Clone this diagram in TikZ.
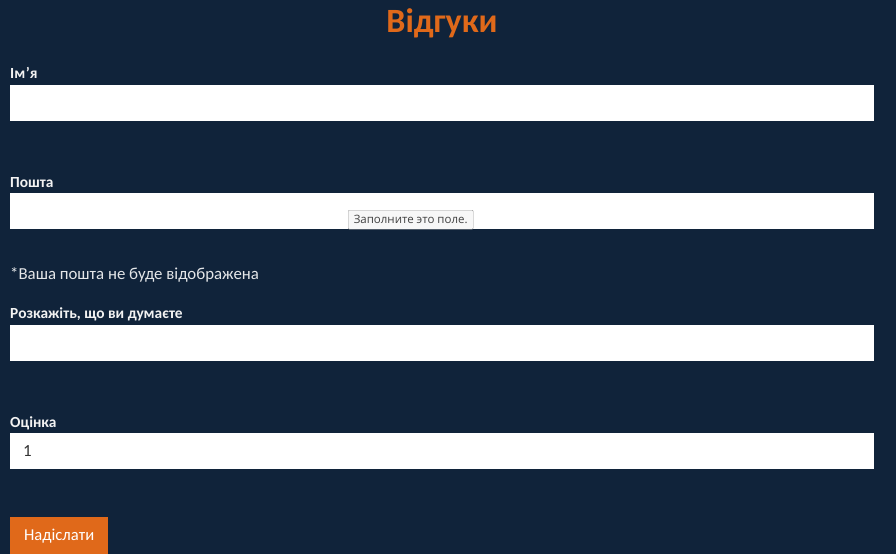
\documentclass[tikz,border=0pt]{standalone}
\usepackage{fontspec}
\setmainfont{Carlito}
\newfontfamily\tipfont{Open Sans}
\usepackage{tikz}
\usetikzlibrary{
  positioning
}
\definecolor{pagebg}{HTML}{10233A}
\definecolor{accent}{HTML}{E0691A}
\definecolor{labelcol}{HTML}{F2F2F2}
\definecolor{notecol}{HTML}{E4E6E8}
\tikzset{
  field/.style={fill=white, draw=none, minimum width=864pt, minimum height=36pt, inner sep=0pt, anchor=north west},
  fieldlabel/.style={text=labelcol, font=\fontsize{15.4}{17}\selectfont\bfseries, inner sep=0pt, anchor=base west},
  tip/.style={draw=gray!80, fill=gray!6, text=black!75, font=\tipfont\fontsize{11.5}{13}\selectfont, rounded corners=1pt, inner xsep=3pt, inner ysep=3pt, anchor=north west, minimum height=19pt, minimum width=125pt},
}
\begin{document}
\begin{tikzpicture}[x=1pt, y=-1pt]

    % page
    \fill[pagebg] (0,0) rectangle (896,554);
    \useasboundingbox (0,0) rectangle (896,554);

    % heading
    \node[text=accent, font=\fontsize{34}{37}\selectfont\bfseries, anchor=base, inner sep=0pt] (title) at (442,32) {Відгуки};

    % name
    \node[fieldlabel] (namelabel) at (10,78) {Ім\kern0.5pt\char"2019я};
    \node[field] (name) at (10,85) {};

    % mail
    \node[fieldlabel] (maillabel) at (10,187) {Пошта};
    \node[field] (mail) at (10,193) {};
    \node[tip] (mailtip) at (348,210) {Заполните это поле.};

    \node[text=notecol, font=\fontsize{16.8}{20}\selectfont, anchor=base west, inner sep=0pt] (mailnote) at (10,279) {*Ваша пошта не буде відображена};

    % opinion
    \node[fieldlabel] (textlabel) at (10,318) {Розкажіть, що ви думаєте};
    \node[field] (text) at (10,325) {};

    % rating
    \node[fieldlabel] (ratelabel) at (10,427) {Оцінка};
    \node[field] (rate) at (10,433) {};
    \node[text=black!80, font=\fontsize{17}{20}\selectfont, inner sep=0pt, right=13pt of rate.west] (ratevalue) {1};

    % submit
    \node[fill=accent, text=white, font=\fontsize{16.6}{20}\selectfont, minimum width=98pt, minimum height=37pt, inner sep=0pt, anchor=north west] (send) at (10,517) {Надіслати};

\end{tikzpicture}
\end{document}
